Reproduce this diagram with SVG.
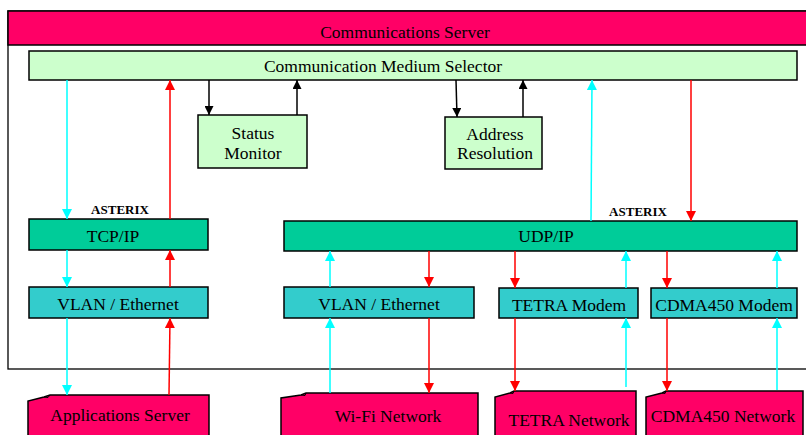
<svg xmlns="http://www.w3.org/2000/svg" width="806" height="435" viewBox="0 0 806 435">
<style>
text{font-family:"Liberation Serif","Times New Roman",serif;font-size:17.5px;fill:#000;text-anchor:middle}
.lbl{font-size:13px;font-weight:bold}
.box{stroke:#000;stroke-width:1.5}
.pale{fill:#CCFFCC}
.green{fill:#00CC99}
.teal{fill:#33CCCC}
.pink{fill:#FF0066}
.c{stroke:#00FFFF;stroke-width:1.5;fill:none;marker-end:url(#ac)}
.r{stroke:#FF0000;stroke-width:1.5;fill:none;marker-end:url(#ar)}
.k{stroke:#000;stroke-width:1.5;fill:none;marker-end:url(#ak)}
.fold{fill:none;stroke:#000;stroke-width:1}
</style>
<defs>
<marker id="ac" viewBox="0 0 10 10" refX="10" refY="5" markerWidth="10" markerHeight="10" orient="auto" markerUnits="userSpaceOnUse"><path d="M0,0 L10,5 L0,10 z" fill="#00FFFF"/></marker>
<marker id="ar" viewBox="0 0 10 10" refX="10" refY="5" markerWidth="10" markerHeight="10" orient="auto" markerUnits="userSpaceOnUse"><path d="M0,0 L10,5 L0,10 z" fill="#FF0000"/></marker>
<marker id="ak" viewBox="0 0 10 10" refX="10" refY="5" markerWidth="10" markerHeight="9" orient="auto" markerUnits="userSpaceOnUse"><path d="M0,0 L10,5 L0,10 z" fill="#000"/></marker>
</defs>
<rect x="0" y="0" width="806" height="435" fill="#fff"/>
<g id="comm-server">
<rect x="8" y="11" width="810" height="358" fill="#fff" stroke="#000" stroke-width="1.3"/>
<rect class="box pink" x="8" y="11" width="810" height="34"/>
<text x="405" y="38">Communications Server</text>
</g>
<g id="selector">
<rect class="box pale" x="29" y="51" width="768" height="29"/>
<text x="383" y="72">Communication Medium Selector</text>
</g>
<g id="status-monitor">
<rect class="box pale" x="198" y="115" width="109" height="53"/>
<text x="253" y="139">Status</text>
<text x="253" y="159">Monitor</text>
</g>
<g id="address-resolution">
<rect class="box pale" x="445" y="117" width="97" height="52"/>
<text x="495" y="140">Address</text>
<text x="495" y="159">Resolution</text>
</g>
<g id="tcpip">
<rect class="box green" x="29" y="219" width="179" height="31"/>
<text x="113" y="242">TCP/IP</text>
</g>
<g id="udpip">
<rect class="box green" x="284" y="221" width="513" height="30"/>
<text x="546" y="242">UDP/IP</text>
</g>
<g id="vlan1">
<rect class="box teal" x="29" y="287" width="179" height="31"/>
<text x="118" y="310">VLAN / Ethernet</text>
</g>
<g id="vlan2">
<rect class="box teal" x="284" y="287" width="190" height="31"/>
<text x="379" y="310">VLAN / Ethernet</text>
</g>
<g id="tetra-modem">
<rect class="box teal" x="499" y="288" width="139" height="30"/>
<text x="569" y="311">TETRA Modem</text>
</g>
<g id="cdma-modem">
<rect class="box teal" x="651" y="288" width="146" height="30"/>
<text x="724" y="311">CDMA450 Modem</text>
</g>
<g id="app-server">
<path class="box pink" d="M28,440 V401 L44,397 L50,395 H209 V440 Z"/>
<path class="fold" d="M44,397 L48,397.5 L50,395"/>
<text x="120" y="421">Applications Server</text>
</g>
<g id="wifi">
<path class="box pink" d="M281,440 V398 L301,395 L306,393 H478 V440 Z"/>
<path class="fold" d="M301,395 L305,395.5 L306,393"/>
<text x="388" y="422">Wi-Fi Network</text>
</g>
<g id="tetra-net">
<path class="box pink" d="M495,440 V397 L510,393 L514,391 H636 V440 Z"/>
<path class="fold" d="M510,393 L513,393.5 L514,391"/>
<text x="569" y="426">TETRA Network</text>
</g>
<g id="cdma-net">
<path class="box pink" d="M646,440 V397 L662,393 L666,391 H803 V440 Z"/>
<path class="fold" d="M662,393 L665,393.5 L666,391"/>
<text x="723" y="422">CDMA450 Network</text>
</g>
<g id="connectors">
<line class="c" x1="67" y1="80" x2="67" y2="219"/>
<line class="c" x1="67" y1="250" x2="67" y2="287"/>
<line class="c" x1="67" y1="318" x2="67" y2="395"/>
<line class="r" x1="169" y1="395" x2="170" y2="318"/>
<line class="r" x1="170" y1="287" x2="170" y2="250"/>
<line class="r" x1="170" y1="219" x2="170" y2="80"/>
<line class="k" x1="209" y1="80" x2="209" y2="115"/>
<line class="k" x1="297" y1="115" x2="297" y2="80"/>
<line class="k" x1="456" y1="80" x2="457" y2="117"/>
<line class="k" x1="523" y1="117" x2="523" y2="80"/>
<line class="c" x1="591" y1="221" x2="592" y2="80"/>
<line class="r" x1="691" y1="80" x2="691" y2="221"/>
<line class="c" x1="330" y1="287" x2="330" y2="251"/>
<line class="r" x1="429" y1="251" x2="429" y2="287"/>
<line class="c" x1="330" y1="393" x2="330" y2="318"/>
<line class="r" x1="429" y1="318" x2="429" y2="393"/>
<line class="r" x1="515" y1="251" x2="515" y2="288"/>
<line class="c" x1="626" y1="288" x2="626" y2="251"/>
<line class="r" x1="515" y1="318" x2="515" y2="391"/>
<line class="c" x1="626" y1="387" x2="626" y2="318"/>
<line class="r" x1="667" y1="251" x2="667" y2="288"/>
<line class="c" x1="777" y1="288" x2="777" y2="251"/>
<line class="r" x1="667" y1="318" x2="667" y2="391"/>
<line class="c" x1="777" y1="390" x2="777" y2="318"/>
<text class="lbl" x="120" y="214">ASTERIX</text>
<text class="lbl" x="638" y="216">ASTERIX</text>
</g>
</svg>
